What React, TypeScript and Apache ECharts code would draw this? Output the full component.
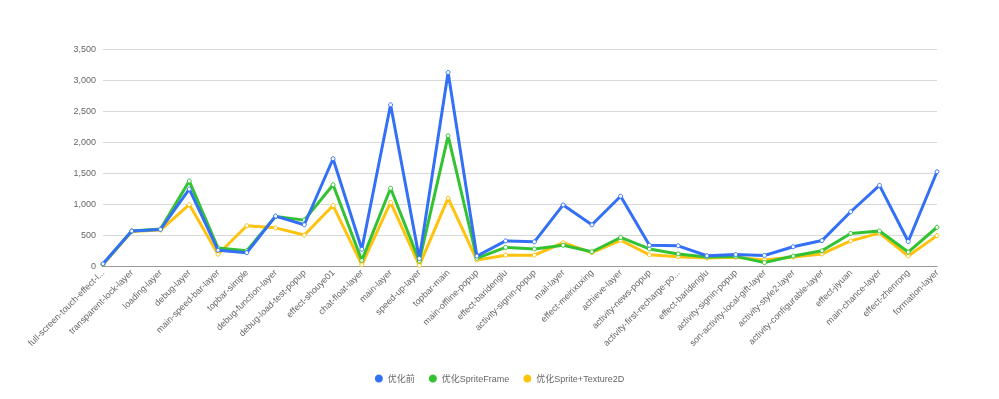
import React, { useEffect, useRef } from "react";
import * as echarts from "echarts";

const categories = [
  "full-screen-touch-effect-layer",
  "transparent-lock-layer",
  "loading-layer",
  "debug-layer",
  "main-speed-bar-layer",
  "topbar-simple",
  "debug-function-layer",
  "debug-load-test-popup",
  "effect-shouye01",
  "chat-float-layer",
  "main-layer",
  "speed-up-layer",
  "topbar-main",
  "main-offline-popup",
  "effect-baridenglu",
  "activity-signin-popup",
  "mail-layer",
  "effect-meirixuxing",
  "achieve-layer",
  "activity-news-popup",
  "activity-first-recharge-popup",
  "effect-baridenglu",
  "activity-signin-popup",
  "son-activity-local-gift-layer",
  "activity-style2-layer",
  "activity-configurable-layer",
  "effect-jiyuan",
  "main-chance-layer",
  "effect-zhenrong",
  "formation-layer",
];

const seriesNames = ["优化前", "优化SpriteFrame", "优化Sprite+Texture2D"];

const before = [35, 565, 590, 1240, 255, 215, 805, 665, 1730, 270, 2600, 120, 3120, 160, 405, 390, 985, 665, 1125, 335, 325, 165, 185, 170, 310, 410, 875, 1300, 395, 1520];
const spriteFrame = [30, 565, 595, 1370, 290, 245, 800, 740, 1310, 90, 1255, 80, 2100, 125, 300, 275, 335, 230, 460, 275, 195, 145, 155, 55, 160, 245, 525, 565, 225, 625];
const spriteTexture = [25, 555, 580, 990, 190, 650, 615, 500, 975, 20, 1025, 10, 1095, 95, 175, 175, 375, 215, 415, 180, 150, 130, 140, 95, 145, 195, 405, 530, 160, 490];

const colors = ["#3370f5", "#33c232", "#ffc20e"];

export default function App() {
  const ref = useRef<HTMLDivElement>(null);
  useEffect(() => {
    if (!ref.current) return;
    const chart = echarts.init(ref.current, undefined, { renderer: "svg" });
    const dataSets = [before, spriteFrame, spriteTexture];
    chart.setOption({
      animation: false,
      color: colors,
      textStyle: { fontFamily: "'Liberation Sans', Arial, 'Noto Sans CJK SC', sans-serif" },
      legend: {
        top: 369,
        left: "center",
        icon: "circle",
        itemWidth: 8,
        itemHeight: 8,
        itemGap: 14,
        textStyle: { color: "#666", fontSize: 9 },
        data: seriesNames.map((name, i) => ({
          name,
          itemStyle: { color: colors[i], borderWidth: 0 },
        })),
      },
      grid: { left: 103, right: 62, top: 49, bottom: 133 },
      xAxis: {
        type: "category",
        boundaryGap: false,
        data: categories,
        axisLine: { lineStyle: { color: "#999", width: 1 } },
        axisTick: { show: false },
        axisLabel: {
          rotate: 45,
          interval: 0,
          color: "#666",
          fontSize: 9,
          margin: 5,
          width: 108,
          overflow: "truncate",
          ellipsis: "...",
        },
      },
      yAxis: {
        type: "value",
        min: 0,
        max: 3500,
        interval: 500,
        axisLine: { show: false },
        axisTick: { show: false },
        axisLabel: {
          color: "#666",
          fontSize: 9,
          margin: 7,
          formatter: (v: number) => v.toLocaleString("en-US"),
        },
        splitLine: { lineStyle: { color: "#d9d9d9" } },
      },
      series: seriesNames.map((name, i) => ({
        name,
        type: "line",
        data: dataSets[i],
        symbol: "circle",
        symbolSize: 4,
        showSymbol: true,
        lineStyle: { width: 3, color: colors[i] },
        itemStyle: { color: "#fff", borderColor: colors[i], borderWidth: 1 },
        z: 3 - i,
      })),
    });
    return () => chart.dispose();
  }, []);
  return (
    <div
      ref={ref}
      style={{ position: "fixed", left: 0, top: 0, width: 999, height: 399 }}
    />
  );
}
